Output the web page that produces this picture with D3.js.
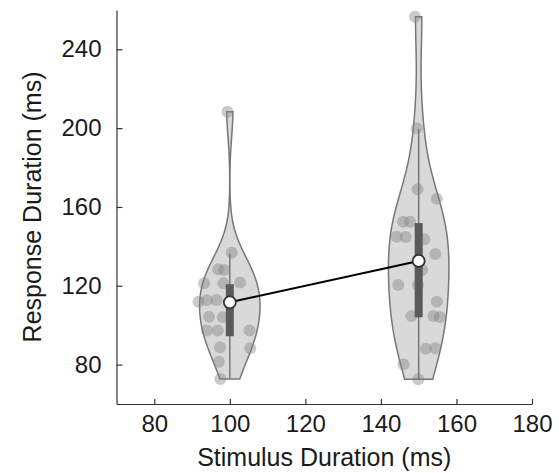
<!DOCTYPE html>
<html>
<head>
<meta charset="utf-8">
<script src="https://cdn.jsdelivr.net/npm/d3@7"></script>
<style>
  body { margin: 0; background: #fff; }
  text { font-family: "Liberation Sans", Arial, Helvetica, sans-serif; fill: #1a1a1a; }
</style>
</head>
<body>
<script>
const width = 559;
const height = 473;

// stimulus durations (ms)
const groups = [100, 150];

// response durations per trial, with the horizontal jitter (ms)
const resp100 = [208.3, 136.8, 128.4, 128.0, 121.3, 121.3, 121.6, 111.9, 112.6, 112.8,
    104.3, 104.0, 97.3, 97.3, 97.3, 88.8, 88.3, 81.5, 72.7];
const jitter100 = [-0.6, 0.5, -3.1, -1.5, -6.8, -1.7, 2.7, -8.3, -6.1, -3.5,
    -5.5, -1.9, -6.1, -3.2, 5.2, -2.6, 5.4, -2.9, -2.5];

const resp150 = [256.5, 199.9, 169.0, 164.2, 152.5, 152.5, 144.9, 144.8, 143.6, 136.1,
    128.0, 120.4, 120.4, 111.9, 104.7, 104.7, 104.2, 88.0, 88.3, 80.2, 72.6];
const jitter150 = [-1.0, -0.5, -0.3, 4.8, -4.1, -2.3, -5.8, -3.4, 1.5, 4.4,
    0.9, -5.4, -0.2, 4.8, -1.9, 3.9, 5.6, 1.9, 4.4, -4.0, -0.1];

// box summary as drawn
const medians = [111.6, 132.6];
const q1 = [94.4, 104.0];
const q3 = [120.8, 151.8];
const whiskerLow = [72.7, 72.6];
const whiskerHigh = [136.3, 199.5];

const xTicks = [80, 100, 120, 140, 160, 180];
const yTicks = [80, 120, 160, 200, 240];

const series = [
    { x: groups[0], values: resp100, jitter: jitter100 },
    { x: groups[1], values: resp150, jitter: jitter150 }
];

const svg = d3.select("body")
    .append("svg")
    .attr("width", width)
    .attr("height", height);

const x = d3.scaleLinear().domain([70, 180]).range([116.5, 532]);
const y = d3.scaleLinear().domain([60, 260]).range([404, 9.9]);

const violinHalf = 8; // ms

// gaussian kde, bandwidth like matlab ksdensity default
function kde(values) {
    const med = d3.median(values);
    const mad = d3.median(values, v => Math.abs(v - med));
    const bw = (mad / 0.6745) * Math.pow(4 / (3 * values.length), 0.2);
    const lo = d3.min(values), hi = d3.max(values);
    const pts = d3.range(0, 201).map(i => lo + (hi - lo) * i / 200);
    return pts.map(p => ({
        v: p,
        d: d3.sum(values, s => Math.exp(-0.5 * ((p - s) / bw) ** 2))
    }));
}

const gViolins = svg.append("g");

series.forEach((s, i) => {
    const dens = kde(s.values);
    const maxD = d3.max(dens, d => d.d);
    const area = d3.area()
        .y(d => y(d.v))
        .x0(d => x(s.x - violinHalf * d.d / maxD))
        .x1(d => x(s.x + violinHalf * d.d / maxD));

    const g = gViolins.append("g");

    g.append("path")
        .datum(dens)
        .attr("d", d => area(d) + "Z")
        .attr("fill", "#808080")
        .attr("fill-opacity", 0.3)
        .attr("stroke", "#777")
        .attr("stroke-width", 1.5);

    g.selectAll("circle.pt")
        .data(s.values)
        .join("circle")
        .attr("class", "pt")
        .attr("cx", (d, j) => x(s.x + s.jitter[j]))
        .attr("cy", d => y(d))
        .attr("r", 6)
        .attr("fill", "#808080")
        .attr("fill-opacity", 0.42);

    g.append("line")
        .attr("x1", x(s.x)).attr("x2", x(s.x))
        .attr("y1", y(whiskerLow[i])).attr("y2", y(whiskerHigh[i]))
        .attr("stroke", "#777")
        .attr("stroke-width", 1.5);

    g.append("rect")
        .attr("x", x(s.x) - 4)
        .attr("width", 8)
        .attr("y", y(q3[i]))
        .attr("height", y(q1[i]) - y(q3[i]))
        .attr("fill", "#5a5a5a");
});

// line between the medians
svg.append("path")
    .datum(groups.map((g, i) => [g, medians[i]]))
    .attr("d", d3.line().x(d => x(d[0])).y(d => y(d[1])))
    .attr("fill", "none")
    .attr("stroke", "#000")
    .attr("stroke-width", 2);

svg.selectAll("circle.med")
    .data(groups)
    .join("circle")
    .attr("class", "med")
    .attr("cx", d => x(d))
    .attr("cy", (d, i) => y(medians[i]))
    .attr("r", 6)
    .attr("fill", "#fff")
    .attr("stroke", "#333")
    .attr("stroke-width", 1.8);

// axes
const xAxis = svg.append("g")
    .attr("transform", `translate(0,${y(60)})`)
    .call(d3.axisBottom(x).tickValues(xTicks).tickSizeInner(-5).tickSizeOuter(0).tickPadding(11));

const yAxis = svg.append("g")
    .attr("transform", `translate(${x(70)},0)`)
    .call(d3.axisLeft(y).tickValues(yTicks).tickSizeInner(-6).tickSizeOuter(0).tickPadding(15));

[xAxis, yAxis].forEach(a => {
    a.selectAll("path, line").attr("stroke", "#333").attr("stroke-width", 1.2);
    a.selectAll("text").attr("font-size", 24).attr("fill", "#1a1a1a");
});

svg.append("text")
    .attr("x", (x(70) + x(180)) / 2)
    .attr("y", 466)
    .attr("text-anchor", "middle")
    .attr("font-size", 25)
    .text("Stimulus Duration (ms)");

svg.append("text")
    .attr("transform", `translate(40.5,${(y(60) + y(260)) / 2}) rotate(-90)`)
    .attr("text-anchor", "middle")
    .attr("font-size", 25)
    .text("Response Duration (ms)");
</script>
</body>
</html>
